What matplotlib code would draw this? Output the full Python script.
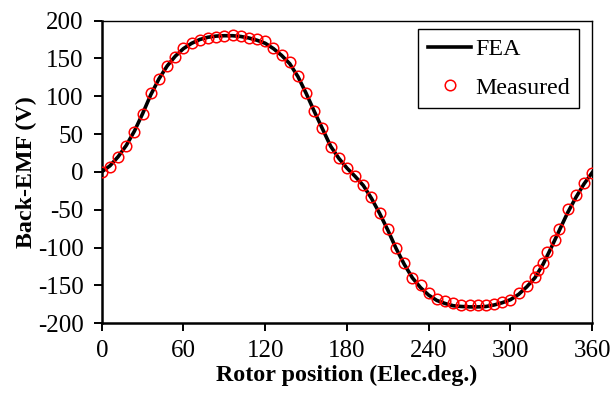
import matplotlib
matplotlib.use("Agg")
import matplotlib.pyplot as plt

plt.rcParams['font.family'] = ['Liberation Serif', 'DejaVu Serif']
plt.rcParams['axes.unicode_minus'] = False

# FEA curve
fea_x = [0, 6, 12, 18, 24, 30, 36, 42, 48, 54, 60, 66, 72, 78, 84, 90, 96, 102, 108, 114,
         120, 126, 132, 138, 144, 150, 156, 162, 168, 174, 180, 186, 192, 198, 204, 210,
         216, 222, 228, 234, 240, 246, 252, 258, 264, 270, 276, 282, 288, 294, 300, 306,
         312, 318, 324, 330, 336, 342, 348, 354, 360]
fea_y = [0, 8, 20, 35, 54, 77, 102, 123, 140, 153, 163, 170, 175, 178, 179.5, 180, 180, 179,
         177, 174, 170, 163, 154, 143, 126, 104, 80, 57, 34, 18, 5, -6, -18, -35, -55, -77,
         -101, -122, -140, -153, -163, -170, -174, -177, -178, -178.5, -178.5, -178, -176,
         -173, -169, -162, -152, -140, -122, -100, -77, -54, -34, -16, -1]

# Measured points
meas_x = [0, 6, 12, 18, 24, 30, 36, 42, 48, 54, 60, 66, 72, 78, 84, 90, 96, 102, 108, 114,
          120, 126, 132, 138, 144, 150, 156, 162, 168, 174, 180, 186, 192, 198, 204, 210,
          216, 222, 228, 234, 240, 246, 252, 258, 264, 270, 276, 282, 288, 294, 300, 306,
          312, 318, 320, 324, 327, 333, 336, 342, 348, 354, 360]
meas_y = [0, 6.6, 19, 34.4, 53, 76.4, 103.8, 122.4, 140, 152.3, 163.4, 170.9, 174.4, 176.7,
          178.4, 179.7, 181, 179.7, 176.7, 175.4, 173.1, 163.4, 154.6, 145.3, 126.8, 104.2,
          80.4, 57.5, 33.1, 17.7, 5.3, -5.3, -17.6, -33.5, -53.8, -75.9, -100.1, -120,
          -139.9, -150, -159.7, -168.6, -170.6, -173, -175.5, -176.6, -175.5, -176.6, -174.8,
          -172.2, -168.9, -159.7, -151.1, -139.5, -129.7, -120.3, -105.3, -89.9, -75.4,
          -49.7, -30.5, -14.6, -2.1]

xticks = [0, 60, 120, 180, 240, 300, 360]
yticks = [-200, -150, -100, -50, 0, 50, 100, 150, 200]

fig = plt.figure(figsize=(6.13, 3.96), dpi=100)
ax = fig.add_axes([0.166, 0.184, 0.800, 0.764])

ax.plot(fea_x, fea_y, color='black', lw=2.6, label='FEA', zorder=2)
ax.plot(meas_x, meas_y, linestyle='none', marker='o', markersize=7.6,
        markerfacecolor='none', markeredgecolor='red', markeredgewidth=1.1,
        label='Measured', zorder=3)

ax.set_xlim(0, 360)
ax.set_ylim(-200, 200)
ax.set_xticks(xticks)
ax.set_yticks(yticks)
ax.tick_params(axis='both', direction='out', length=5.5, width=1.4, labelsize=18,
               colors='black')
ax.tick_params(axis='y', pad=7.5)
ax.tick_params(axis='x', pad=7)

for s in ['left', 'bottom']:
    ax.spines[s].set_linewidth(1.8)
for s in ['top', 'right']:
    ax.spines[s].set_linewidth(1.0)

ax.set_xlabel('Rotor position (Elec.deg.)', fontsize=17.3, fontweight='bold', labelpad=2)
ax.set_ylabel('Back-EMF (V)', fontsize=17.3, fontweight='bold', labelpad=1)

leg = ax.legend(loc='upper right', bbox_to_anchor=(0.9735, 0.9725), borderaxespad=0,
                fontsize=17.3, frameon=True, fancybox=False, edgecolor='black',
                framealpha=1, numpoints=1, handlelength=1.8, borderpad=0.4,
                labelspacing=0.68, handletextpad=0.15)
leg.get_frame().set_linewidth(1.0)

fig.savefig('out.png', dpi=100)
